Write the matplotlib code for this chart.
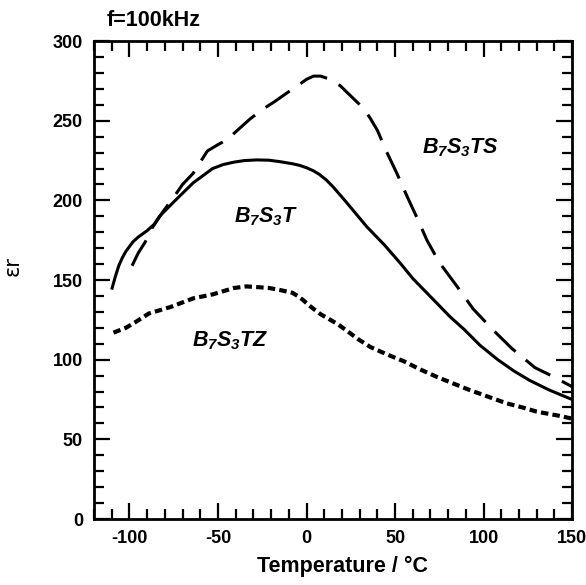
import matplotlib
matplotlib.use("Agg")
import matplotlib.pyplot as plt
from matplotlib.ticker import MultipleLocator

# ---- data ----
t_T = [-110, -108, -106, -104, -102, -98, -95, -90, -86, -83, -75, -64, -53, -47, -41, -35, -28, -21, -15, -8, -4, 0, 4, 7, 11, 15, 22, 34, 44, 53, 60, 67, 74, 81, 89, 98, 108, 117, 126, 137, 150]
er_T = [144, 152, 159, 164, 168, 174, 177, 181, 185, 190, 199, 211, 220, 222.5, 224, 225, 225.4, 225.2, 224.3, 223, 222, 220.5, 218.5, 216.5, 213, 208.5, 199.5, 183.5, 172, 160.5, 151, 143, 135, 127, 119, 109, 100, 93, 87, 81, 75]

t_TS = [-98.5, -95, -91, -87, -81, -75, -70, -64, -60, -56, -50, -45, -38, -32, -25, -18, -11, -5, 0, 4, 8, 12, 16, 19, 25, 32, 36, 40, 45, 51, 57, 62, 68, 75, 85, 94, 105, 116, 129, 140, 150]
er_TS = [159, 167, 174, 183, 193, 202, 210, 217, 224, 231, 235, 238, 245, 251, 257, 262, 267.5, 272, 276, 278, 278, 276.5, 274, 272, 265.5, 258, 251.5, 244, 231, 217, 202, 190, 175, 161, 146, 132, 119, 107, 95, 89, 83]

t_TZ = [-109, -102, -96, -89, -77, -64, -53, -41, -34, -27, -21, -14, -8, -5, -2, 1, 5, 8, 12, 18, 23, 29, 36, 45, 55, 64, 74, 83, 92, 102, 113, 122, 130, 143, 150]
er_TZ = [117, 120, 124, 129, 133, 138.5, 141, 145, 146, 145.5, 145, 143.5, 142, 140, 137.5, 134.5, 131, 128.5, 126, 122, 118, 113, 108, 103.5, 99, 94, 89, 85, 81, 77, 72.6, 70, 67.4, 64.7, 63]

series_labels = [r"$B_7S_3T$", r"$B_7S_3TS$", r"$B_7S_3TZ$"]
label_pos = [(-23, 190), (87, 233), (-43, 112)]

xticks = [-100, -50, 0, 50, 100, 150]
yticks = [0, 50, 100, 150, 200, 250, 300]

plt.rcParams['font.family'] = ['Liberation Sans', 'DejaVu Sans']
plt.rcParams['font.weight'] = 'bold'
plt.rcParams['axes.unicode_minus'] = False
plt.rcParams['mathtext.fontset'] = 'custom'
plt.rcParams['mathtext.it'] = 'Liberation Sans:italic:bold'
plt.rcParams['mathtext.rm'] = 'Liberation Sans:italic:bold'
plt.rcParams['mathtext.bf'] = 'Liberation Sans:italic:bold'

fig = plt.figure(figsize=(5.86, 5.85), dpi=100)
ax = fig.add_axes([0.1604, 0.1128, 0.816, 0.817])

ax.plot(t_T, er_T, color='black', lw=2.2, solid_capstyle='butt', solid_joinstyle='round')
ax.plot(t_TS, er_TS, color='black', lw=2.2, linestyle=(0, (9.5, 4.3)), dash_capstyle='butt')
ax.plot(t_TZ, er_TZ, color='black', lw=3.0, linestyle=(0, (1.8, 1.0)), dash_capstyle='butt')

for lab, (lx, ly) in zip(series_labels, label_pos):
    ax.text(lx, ly, lab, fontsize=15.5, ha='center', va='center')

ax.set_xlim(-120, 150)
ax.set_ylim(0, 300)
ax.set_xticks(xticks)
ax.set_yticks(yticks)
ax.set_xticklabels([str(v) for v in xticks])
ax.set_yticklabels([str(v) for v in yticks])
ax.xaxis.set_minor_locator(MultipleLocator(10))
ax.yaxis.set_minor_locator(MultipleLocator(10))
ax.tick_params(which='both', direction='in', top=True, right=True, width=1.6, labelsize=13)
ax.tick_params(which='major', length=11.5, pad=8)
ax.tick_params(which='minor', length=7)
for lab in ax.get_xticklabels() + ax.get_yticklabels():
    lab.set_fontweight('bold')
for s in ax.spines.values():
    s.set_linewidth(2.0)

ax.set_xlabel("Temperature / °C", fontsize=15.5, fontweight='bold', va='center')
ax.xaxis.set_label_coords(0.519, -0.1)
ax.set_ylabel("εr", fontsize=15, fontweight='normal', family=['DejaVu Sans'])
ax.yaxis.set_label_coords(-0.15, 0.53)

ax.text(0.027, 1.042, "f=100kHz", transform=ax.transAxes, fontsize=15.5, fontweight='bold',
        ha='left', va='center')

fig.savefig("out.png", dpi=100)
